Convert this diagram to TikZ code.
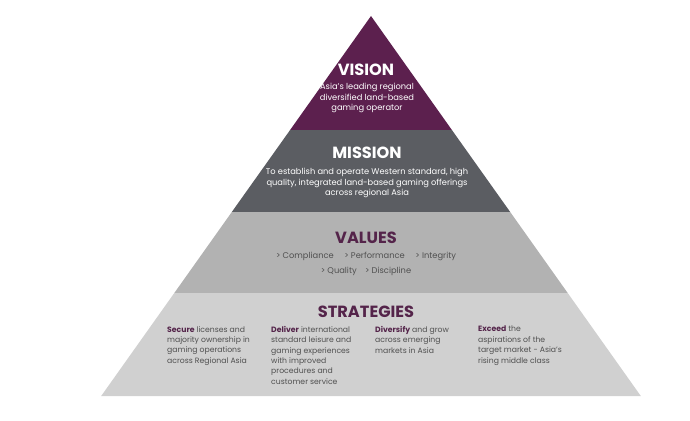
\documentclass[tikz,border=0pt]{standalone}
\usepackage{fontspec}
\setmainfont{Poppins}
\definecolor{vispurple}{RGB}{92,32,78}
\definecolor{misgray}{RGB}{91,93,98}
\definecolor{valgray}{RGB}{178,178,178}
\definecolor{strgray}{RGB}{208,208,208}
\definecolor{headpurple}{RGB}{84,36,74}
\definecolor{bodygray}{RGB}{80,80,80}
\begin{document}
\begin{tikzpicture}[x=1pt,y=-1pt,
	title/.style={font=\bfseries\fontsize{16.2}{16}\selectfont,inner sep=0},
	body/.style={font=\fontsize{8.3}{10.8}\selectfont,align=center,inner sep=0},
	strat/.style={font=\fontsize{7.7}{10.4}\selectfont,align=left,anchor=north west,inner sep=0,text=bodygray}]
\useasboundingbox (0,0) rectangle (690,420);
% pyramid bands
\fill[vispurple] (371,16) -- (451.9,130) -- (290.1,130) -- cycle;
\fill[misgray] (290.1,130) -- (451.9,130) -- (510.2,212) -- (231.8,212) -- cycle;
\fill[valgray] (231.8,212) -- (510.2,212) -- (567.7,293) -- (174.3,293) -- cycle;
\fill[strgray] (174.3,293) -- (567.7,293) -- (640.8,396) -- (101.2,396) -- cycle;
% vision
\node[title,text=white] (vision) at (366,70) {VISION};
\node[body,text=white] (visiontxt) at (367,98) {Asia's leading regional\\diversified land-based\\gaming operator};
% mission
\node[title,text=white] (mission) at (367,153) {MISSION};
\node[body,text=white] (missiontxt) at (367,183) {To establish and operate Western standard, high\\quality, integrated land-based gaming offerings\\across regional Asia};
% values
\node[title,text=headpurple] (values) at (366,238) {VALUES};
\node[body,text=bodygray,font=\fontsize{8.3}{15}\selectfont] (valuestxt) at (366,264) {> Compliance\quad\ > Performance\quad\ > Integrity\\> Quality\quad > Discipline};
% strategies
\node[title,text=headpurple] (strategies) at (366,312) {STRATEGIES};
\node[strat] (secure) at (167,326) {{\color{headpurple}\bfseries Secure} licenses and\\majority ownership in\\gaming operations\\across Regional Asia};
\node[strat] (deliver) at (271,326) {{\color{headpurple}\bfseries Deliver} international\\standard leisure and\\gaming experiences\\with improved\\procedures and\\customer service};
\node[strat] (diversify) at (375,326) {{\color{headpurple}\bfseries Diversify} and grow\\across emerging\\markets in Asia};
\node[strat] (exceed) at (478,326) {{\color{headpurple}\bfseries Exceed} the\\aspirations of the\\target market - Asia's\\rising middle class};
\end{tikzpicture}
\end{document}
